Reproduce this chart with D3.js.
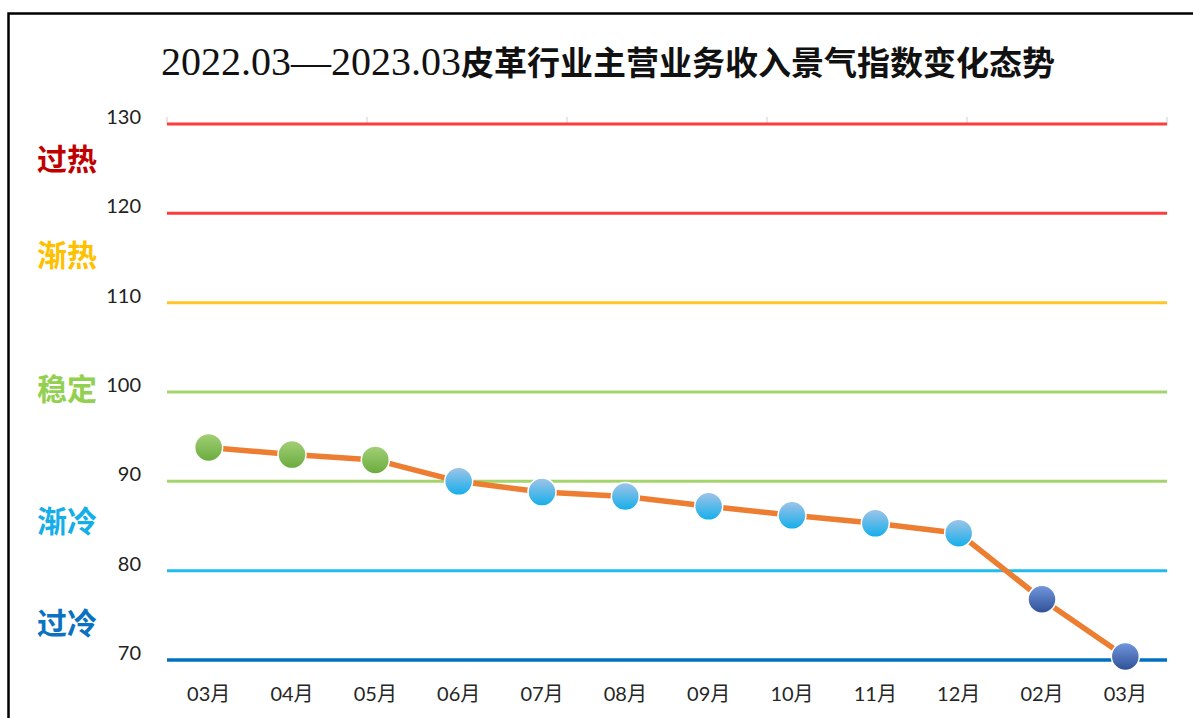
<!DOCTYPE html>
<html>
<head>
<meta charset="utf-8">
<script src="https://cdn.jsdelivr.net/npm/d3@7"></script>
<style>
  body { margin: 0; background: #fff; }
  svg { display: block; }
</style>
</head>
<body>
<svg id="chart" width="1193" height="718"></svg>
<script>
// ---- data ----
var months = ["03月", "04月", "05月", "06月", "07月", "08月", "09月", "10月", "11月", "12月", "02月", "03月"];
var values = [93.8, 93.0, 92.4, 90.0, 88.8, 88.3, 87.2, 86.2, 85.3, 84.2, 76.8, 70.4];
var yTicks = [70, 80, 90, 100, 110, 120, 130];
var tickColors = ["#0070c0", "#1fbcf2", "#a4d46c", "#a4d46c", "#ffc526", "#ff3b3b", "#ff3b3b"];
var zoneNames = ["过冷", "渐冷", "稳定", "渐热", "过热"];
var zoneValues = [74.0, 85.4, 100.2, 115.2, 126.0];
var zoneColors = ["#0a72c0", "#14aee8", "#92d050", "#ffc000", "#c00000"];

var svg = d3.select("#chart"),
    pLeft = 167, pRight = 1167, pTop = 124, pBottom = 660;

// outer frame
svg.append("rect")
    .attr("x", 8.5).attr("y", 13.5)
    .attr("width", 1250).attr("height", 800)
    .attr("fill", "none").attr("stroke", "#000").attr("stroke-width", 2.5);

// gradients for the markers
var defs = svg.append("defs");
var grads = {
  warm: ["#a3d077", "#6aab3c"],
  cool: ["#a1c4e8", "#12aeea"],
  cold: ["#7397df", "#2e4f94"]
};
Object.keys(grads).forEach(function (k) {
  var g = defs.append("linearGradient").attr("id", "g-" + k)
      .attr("x1", 0).attr("y1", 0).attr("x2", 0).attr("y2", 1);
  g.append("stop").attr("offset", "0%").attr("stop-color", grads[k][0]);
  g.append("stop").attr("offset", "100%").attr("stop-color", grads[k][1]);
});

var x = d3.scaleBand().domain(d3.range(months.length)).range([pLeft, pRight]);
var y = d3.scaleLinear().domain([70, 130]).range([pBottom, pTop]);

// title
var title = svg.append("text")
    .attr("x", 608).attr("y", 75)
    .attr("text-anchor", "middle")
    .attr("fill", "#111");
title.append("tspan")
    .attr("font-family", "'Liberation Serif', serif")
    .attr("font-size", 40)
    .text("2022.03—2023.03");
title.append("tspan")
    .attr("font-family", "'Noto Sans CJK SC', sans-serif")
    .attr("font-weight", "bold")
    .attr("font-size", 33)
    .text("皮革行业主营业务收入景气指数变化态势");

// small top ticks
svg.selectAll(".topTick")
    .data(d3.range(pLeft, pRight + 1, 200))
    .enter().append("line")
    .attr("x1", function (d) { return d; }).attr("x2", function (d) { return d; })
    .attr("y1", pTop - 7).attr("y2", pTop)
    .attr("stroke", "#c8d0d4").attr("stroke-width", 1);

// threshold lines
svg.selectAll(".hline")
    .data(yTicks)
    .enter().append("line")
    .attr("x1", pLeft).attr("x2", pRight)
    .attr("y1", function (d) { return y(d); })
    .attr("y2", function (d) { return y(d); })
    .attr("stroke", function (d, i) { return tickColors[i]; })
    .attr("stroke-width", function (d) { return d === 70 ? 3.5 : 3; });

// y axis labels
var yAxis = d3.axisLeft(y).tickValues(yTicks).tickSize(0).tickPadding(0);
var ya = svg.append("g").attr("transform", "translate(141,-7)").call(yAxis);
ya.select(".domain").remove();
ya.selectAll("text")
    .attr("font-family", "Lato, 'Open Sans', sans-serif")
    .attr("font-size", 20)
    .attr("fill", "#222");

// x axis labels
var xAxis = d3.axisBottom(x).tickFormat(function (i) { return months[i]; }).tickSize(0).tickPadding(0);
var xa = svg.append("g").attr("transform", "translate(0,701)").call(xAxis);
xa.select(".domain").remove();
xa.selectAll("text")
    .attr("dy", 0)
    .attr("font-family", "Lato, 'Noto Sans CJK SC', sans-serif")
    .attr("font-size", 20)
    .attr("fill", "#262626");

// zone names
svg.selectAll(".zone")
    .data(zoneNames)
    .enter().append("text")
    .attr("x", 67)
    .attr("y", function (d, i) { return y(zoneValues[i]) + 10; })
    .attr("text-anchor", "middle")
    .attr("font-family", "'Noto Sans CJK SC', sans-serif")
    .attr("font-weight", "bold")
    .attr("font-size", 30)
    .attr("fill", function (d, i) { return zoneColors[i]; })
    .text(function (d) { return d; });

// series line
var line = d3.line()
    .x(function (d, i) { return x(i) + x.bandwidth() / 2; })
    .y(function (d) { return y(d); });
svg.append("path")
    .datum(values)
    .attr("d", line)
    .attr("fill", "none")
    .attr("stroke", "#ed7d31")
    .attr("stroke-width", 5.5)
    .attr("stroke-linejoin", "round");

// markers
svg.selectAll(".pt")
    .data(values)
    .enter().append("circle")
    .attr("cx", function (d, i) { return x(i) + x.bandwidth() / 2; })
    .attr("cy", function (d) { return y(d); })
    .attr("r", 14)
    .attr("fill", function (d) {
      if (d > 90) return "url(#g-warm)";
      if (d > 80) return "url(#g-cool)";
      return "url(#g-cold)";
    })
    .attr("stroke", "#fff")
    .attr("stroke-width", 1.5);
</script>
</body>
</html>
